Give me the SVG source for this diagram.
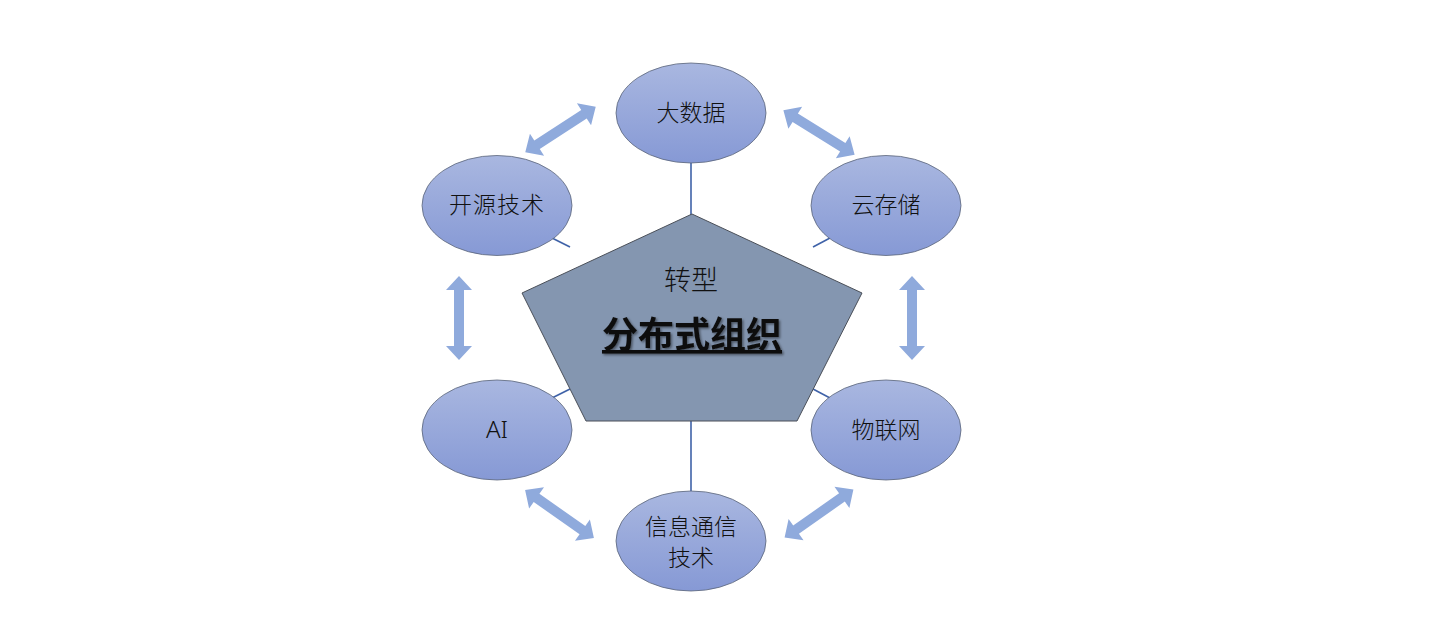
<svg xmlns="http://www.w3.org/2000/svg" width="1429" height="628" viewBox="0 0 1429 628">
<defs>
<linearGradient id="eg" x1="0" y1="0" x2="0" y2="1">
<stop offset="0" stop-color="#A9B7E0"/>
<stop offset="1" stop-color="#8699D5"/>
</linearGradient>
<path id="darr" d="M-42,0 L-28,-13 L-28,-5 L28,-5 L28,-13 L42,0 L28,13 L28,5 L-28,5 L-28,13 Z"/>
<filter id="sh" x="-10%" y="-20%" width="130%" height="150%">
<feDropShadow dx="1.5" dy="1.5" stdDeviation="1" flood-color="#000" flood-opacity="0.45"/>
</filter>
</defs>
<style>
.node ellipse{fill:url(#eg);stroke:#5A6478;stroke-width:0.8}
.lbl{font-family:"Noto Sans CJK SC","Noto Sans",sans-serif;font-size:23px;font-weight:300;fill:#111;text-anchor:middle}
.conn line{stroke:#3F62A8;stroke-width:1.6}
.arr use{fill:#8FAADC}
</style>
<rect width="1429" height="628" fill="#fff"/>
<g id="connectors" class="conn">
<line x1="691" y1="163" x2="691" y2="216"/>
<line x1="691" y1="420" x2="691" y2="491"/>
<line x1="552" y1="238" x2="570" y2="247"/>
<line x1="813" y1="247" x2="830" y2="238"/>
<line x1="552" y1="398" x2="570" y2="389"/>
<line x1="813" y1="389" x2="830" y2="398"/>
</g>
<g id="arrows" class="arr">
<use href="#darr" transform="translate(560.5,129.5) rotate(-33)"/>
<use href="#darr" transform="translate(819,132.5) rotate(32)"/>
<use href="#darr" transform="translate(459,318) rotate(90)"/>
<use href="#darr" transform="translate(912,318) rotate(90)"/>
<use href="#darr" transform="translate(559.5,514) rotate(35)"/>
<use href="#darr" transform="translate(819,513.5) rotate(-35)"/>
</g>
<g id="center">
<polygon points="692,214 862,293 797,421 586,421 522,293" fill="#8496B0" stroke="#4A4F58" stroke-width="1"/>
<text x="691" y="290" class="lbl" style="font-size:27px">转型</text>
<text x="692" y="348" class="lbl" style="font-size:36px;font-weight:bold;text-decoration:underline" filter="url(#sh)">分布式组织</text>
</g>
<g id="n-bigdata" class="node"><ellipse cx="691" cy="113" rx="75" ry="50"/><text x="691" y="121" class="lbl">大数据</text></g>
<g id="n-opensource" class="node"><ellipse cx="497" cy="205.5" rx="75" ry="50"/><text x="497" y="213" class="lbl" style="letter-spacing:1px">开源技术</text></g>
<g id="n-cloud" class="node"><ellipse cx="886" cy="205.5" rx="75" ry="50"/><text x="886" y="213" class="lbl">云存储</text></g>
<g id="n-ai" class="node"><ellipse cx="497" cy="430" rx="75" ry="50"/><text x="497" y="438" class="lbl" style="font-family:'Noto Sans',sans-serif;font-size:24px">AI</text></g>
<g id="n-iot" class="node"><ellipse cx="886" cy="430" rx="75" ry="50"/><text x="886" y="438" class="lbl">物联网</text></g>
<g id="n-ict" class="node"><ellipse cx="691" cy="541" rx="75" ry="50"/><text x="691" y="535" class="lbl">信息通信</text><text x="691" y="566" class="lbl">技术</text></g>
</svg>
